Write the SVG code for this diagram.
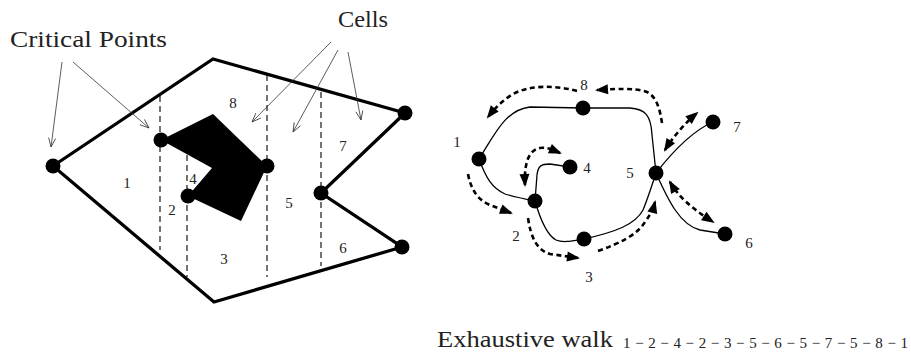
<svg xmlns="http://www.w3.org/2000/svg" width="911" height="354" viewBox="0 0 911 354">
<defs>
<style>
.outer{fill:none;stroke:#000;stroke-width:3.3;stroke-linejoin:miter}
.cut{fill:none;stroke:#000;stroke-width:1.1;stroke-dasharray:6,4}
.thin{fill:none;stroke:#333;stroke-width:0.8}
.edge{fill:none;stroke:#000;stroke-width:1.3}
.walk{fill:none;stroke:#000;stroke-width:2.6;stroke-dasharray:5,3.5}
.dot{fill:#000}
.lbl{font-size:15px;fill:#222;text-anchor:middle}
.big{font-size:23px;fill:#222}
</style>
<marker id="open" markerUnits="userSpaceOnUse" markerWidth="12" markerHeight="10" refX="9" refY="3.5" orient="auto" overflow="visible">
<path d="M0,0 L9,3.5 L0,7" fill="none" stroke="#333" stroke-width="0.8"/>
</marker>
<marker id="head" markerUnits="userSpaceOnUse" markerWidth="14" markerHeight="11" refX="11" refY="5" orient="auto-start-reverse" overflow="visible">
<path d="M0,0 L13,5 L0,10 z" fill="#000"/>
</marker>
</defs>

<g id="workspace">
<polygon class="outer" points="53,166 213,59 405,113 321,193 402,247 214,302"/>
<polygon id="obstacle" fill="#000" points="161,140 213,114 267,166 241,221 188,196 212,168"/>
</g>

<g id="cell-lines">
<line class="cut" x1="160" y1="96" x2="160" y2="250"/>
<line class="cut" x1="187" y1="155" x2="187" y2="277"/>
<line class="cut" x1="267" y1="75" x2="267" y2="277"/>
<line class="cut" x1="321" y1="92" x2="321" y2="266"/>
</g>

<g id="critical-points">
<circle class="dot" cx="53" cy="166" r="7.5"/>
<circle class="dot" cx="161" cy="140" r="7.5"/>
<circle class="dot" cx="267" cy="166" r="7.5"/>
<circle class="dot" cx="188" cy="196" r="7.5"/>
<circle class="dot" cx="321" cy="193" r="7.5"/>
<circle class="dot" cx="405" cy="113" r="7.5"/>
<circle class="dot" cx="402" cy="247" r="7.5"/>
</g>

<g id="cell-labels" font-family="'Liberation Serif', 'DejaVu Serif', serif">
<text class="lbl" x="127" y="188">1</text>
<text class="lbl" x="172" y="215">2</text>
<text class="lbl" x="193" y="184">4</text>
<text class="lbl" x="233" y="108">8</text>
<text class="lbl" x="289" y="208">5</text>
<text class="lbl" x="343" y="151">7</text>
<text class="lbl" x="343" y="253">6</text>
<text class="lbl" x="224" y="264">3</text>
</g>

<g id="annotations">
<text class="big" font-family="'Liberation Serif', 'DejaVu Serif', serif" x="10" y="47" textLength="157" lengthAdjust="spacingAndGlyphs">Critical Points</text>
<text class="big" font-family="'Liberation Serif', 'DejaVu Serif', serif" x="338" y="27" textLength="50" lengthAdjust="spacingAndGlyphs">Cells</text>
<line class="thin" x1="62" y1="62" x2="51" y2="147" marker-end="url(#open)"/>
<line class="thin" x1="73" y1="62" x2="149" y2="128" marker-end="url(#open)"/>
<line class="thin" x1="331" y1="42" x2="252" y2="122" marker-end="url(#open)"/>
<line class="thin" x1="338" y1="50" x2="293" y2="132" marker-end="url(#open)"/>
<line class="thin" x1="348" y1="52" x2="361" y2="120" marker-end="url(#open)"/>
</g>

<g id="connectors">
<path class="edge" d="M479,159 C495,134 505,110 530,107 L583,108"/>
<path class="edge" d="M583,108 L630,108 C645,109 651,115 652,135 L656,173"/>
<path class="edge" d="M656,173 C670,155 690,132 713,122"/>
<path class="edge" d="M656,173 C668,200 680,225 700,230 L725,234"/>
<path class="edge" d="M584,239 C615,232 635,225 643,210 C648,198 652,185 656,173"/>
<path class="edge" d="M479,159 C486,178 492,188 505,194 C515,197 525,199 535,201"/>
<path class="edge" d="M535,201 L537,175 C538,166 541,164 550,164 L570,167"/>
<path class="edge" d="M535,201 C541,222 547,235 556,240 C563,243 572,241 584,239"/>

<path class="walk" d="M577,91 C555,85 530,85 513,94 C503,100 495,108 488,117" marker-end="url(#head)"/>
<path class="walk" d="M662,123 C660,110 657,97 647,92 C640,89 625,88 597,90" marker-end="url(#head)"/>
<path class="walk" d="M468,174 C471,190 478,200 490,205 L511,213" marker-end="url(#head)"/>
<path class="walk" d="M525,185 C524,165 528,150 540,148 C547,147 553,150 560,153" marker-start="url(#head)" marker-end="url(#head)"/>
<path class="walk" d="M528,218 C531,238 537,250 550,254 L578,258" marker-end="url(#head)"/>
<path class="walk" d="M598,251 C620,243 637,235 645,222 C650,215 653,210 655,202" marker-end="url(#head)"/>
<path class="walk" d="M670,182 C678,196 690,207 713,222" marker-start="url(#head)" marker-end="url(#head)"/>
<path class="walk" d="M665,150 C673,137 685,123 697,113" marker-start="url(#head)" marker-end="url(#head)"/>
</g>

<g font-family="'Liberation Serif', 'DejaVu Serif', serif">
<g id="node-1"><circle class="dot" cx="479" cy="159" r="7.5"/><text class="lbl" x="457" y="147">1</text></g>
<g id="node-2"><circle class="dot" cx="535" cy="201" r="7.5"/><text class="lbl" x="516" y="241">2</text></g>
<g id="node-3"><circle class="dot" cx="584" cy="239" r="7.5"/><text class="lbl" x="589" y="282">3</text></g>
<g id="node-4"><circle class="dot" cx="570" cy="167" r="7.5"/><text class="lbl" x="587" y="173">4</text></g>
<g id="node-5"><circle class="dot" cx="656" cy="173" r="7.5"/><text class="lbl" x="630" y="178">5</text></g>
<g id="node-6"><circle class="dot" cx="725" cy="234" r="7.5"/><text class="lbl" x="749" y="248">6</text></g>
<g id="node-7"><circle class="dot" cx="713" cy="122" r="7.5"/><text class="lbl" x="737" y="132">7</text></g>
<g id="node-8"><circle class="dot" cx="583" cy="108" r="7.5"/><text class="lbl" x="584" y="90">8</text></g>
</g>

<g id="caption" font-family="'Liberation Serif', 'DejaVu Serif', serif">
<text class="big" x="437" y="347" textLength="176" lengthAdjust="spacingAndGlyphs">Exhaustive walk</text>
<text class="lbl" style="text-anchor:start" x="623" y="348" textLength="285" lengthAdjust="spacing">1 − 2 − 4 − 2 − 3 − 5 − 6 − 5 − 7 − 5 − 8 − 1</text>
</g>
</svg>
